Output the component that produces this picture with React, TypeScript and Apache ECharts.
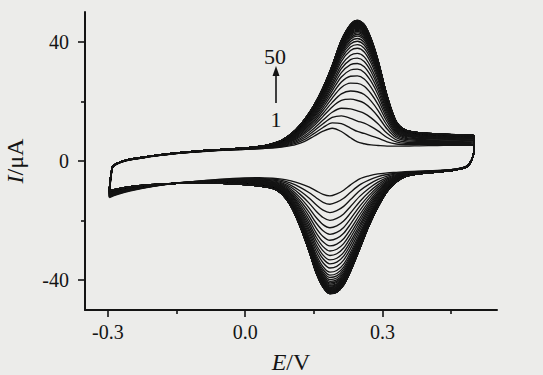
import React, { useEffect, useRef } from 'react';
import * as echarts from 'echarts';

// Potentials (V) of the forward scan (-0.3 V -> 0.5 V)
const forwardE = [-0.29, -0.28, -0.26, -0.23, -0.2, -0.15, -0.1, -0.05, 0.0, 0.04, 0.07, 0.09, 0.11, 0.13, 0.15, 0.17, 0.19, 0.21, 0.23, 0.245, 0.26, 0.275, 0.29, 0.31, 0.33, 0.35, 0.38, 0.42, 0.46, 0.5];
// Current (µA), forward scan, cycle 1 and cycle 50
const forwardCycle1 = [-2.3, -1.0, 0.1, 0.9, 1.6, 2.5, 3.1, 3.6, 3.9, 4.2, 4.5, 4.9, 5.5, 6.6, 8.3, 10.0, 11.0, 9.9, 7.8, 6.4, 5.8, 5.4, 5.2, 5.0, 5.0, 5.0, 5.1, 5.2, 5.3, 5.3];
const forwardCycle50 = [-2.0, -0.8, 0.3, 1.1, 1.8, 2.7, 3.4, 3.9, 4.4, 5.1, 6.3, 7.9, 10.4, 14.0, 18.6, 24.6, 32.0, 40.5, 45.8, 47.2, 45.8, 41.0, 33.8, 21.8, 13.2, 10.4, 9.5, 9.1, 8.8, 8.6];

// Potentials (V) of the reverse scan (0.5 V -> -0.3 V)
const reverseE = [0.5, 0.495, 0.485, 0.46, 0.42, 0.38, 0.35, 0.33, 0.31, 0.29, 0.27, 0.25, 0.23, 0.215, 0.2, 0.185, 0.17, 0.155, 0.14, 0.12, 0.1, 0.08, 0.06, 0.03, 0.0, -0.05, -0.1, -0.15, -0.2, -0.25, -0.28, -0.297];
const reverseCycle1 = [4.0, 0.5, -1.6, -2.7, -3.2, -3.4, -3.6, -3.8, -4.0, -4.3, -5.0, -6.0, -8.0, -9.8, -11.0, -11.7, -11.2, -10.0, -8.8, -7.6, -6.7, -6.1, -5.8, -5.6, -5.7, -6.1, -6.7, -7.4, -8.5, -10.0, -11.3, -12.3];
const reverseCycle50 = [4.0, 0.5, -1.8, -3.0, -3.7, -4.3, -5.2, -7.0, -10.2, -15.4, -21.8, -29.5, -37.0, -41.6, -44.0, -44.5, -42.3, -37.5, -30.5, -22.0, -15.2, -11.0, -9.2, -8.4, -7.9, -7.5, -7.4, -7.5, -7.9, -8.6, -9.4, -10.0];

// Peak currents (µA) of the 50 cycles
const anodicPeaks = [11.1, 14.2, 17.3, 20.3, 23.4, 26.0, 28.5, 30.7, 32.7, 34.4, 36.0, 37.4, 38.9, 40.0,
  41.0, 41.8, 42.5, 43.0, 43.5, 43.9, 44.2, 44.5, 44.8, 45.0, 45.2, 45.4, 45.6, 45.75, 45.9, 46.0, 46.1, 46.2,
  46.3, 46.4, 46.5, 46.55, 46.6, 46.7, 46.75, 46.8, 46.85, 46.9, 46.95, 47.0, 47.05, 47.1, 47.12, 47.15, 47.18, 47.2];
const cathodicPeaks = [-11.7, -14.5, -17.3, -19.9, -22.4, -24.6, -26.6, -28.5, -30.2, -31.7, -33.2, -34.5, -35.9, -37.3,
  -38.3, -39.1, -39.8, -40.4, -40.9, -41.3, -41.7, -42.0, -42.3, -42.55, -42.8, -43.0, -43.2, -43.35, -43.5, -43.6, -43.7, -43.8,
  -43.9, -43.95, -44.0, -44.05, -44.1, -44.15, -44.2, -44.25, -44.3, -44.33, -44.36, -44.39, -44.42, -44.45, -44.47, -44.49, -44.5, -44.5];

const xTickValues = [-0.3, 0, 0.3];
const xMinorTickValues = [-0.15, 0.15, 0.45];
const yTickValues = [-40, 0, 40];
const yMinorTickValues = [-20, 20];

const FONT = '"Liberation Serif", "DejaVu Serif", serif';
const INK = '#141414';

function cycleData(k: number): number[][] {
  const n = anodicPeaks.length;
  const wa = (anodicPeaks[k] - anodicPeaks[0]) / (anodicPeaks[n - 1] - anodicPeaks[0]);
  const wc = (cathodicPeaks[k] - cathodicPeaks[0]) / (cathodicPeaks[n - 1] - cathodicPeaks[0]);
  const pts: number[][] = [];
  const m = reverseE.length;
  pts.push([reverseE[m - 1], reverseCycle1[m - 1] + wc * (reverseCycle50[m - 1] - reverseCycle1[m - 1])]);
  forwardE.forEach((e, i) => pts.push([e, forwardCycle1[i] + wa * (forwardCycle50[i] - forwardCycle1[i])]));
  reverseE.forEach((e, i) => pts.push([e, reverseCycle1[i] + wc * (reverseCycle50[i] - reverseCycle1[i])]));
  return pts;
}

export default function App() {
  const ref = useRef<HTMLDivElement>(null);
  useEffect(() => {
    if (!ref.current) return;
    const chart = echarts.init(ref.current, undefined, { renderer: 'svg' });
    const series: any[] = anodicPeaks.map((_, k) => ({
      type: 'line',
      data: cycleData(k),
      showSymbol: false,
      symbol: 'none',
      smooth: 0.3,
      silent: true,
      lineStyle: { color: INK, width: 1.35 },
    }));
    const axisLineStyle = { color: INK, width: 2 };
    chart.setOption({
      animation: false,
      backgroundColor: '#ececea',
      grid: { left: 85, right: 46, top: 12, bottom: 65, containLabel: false, outerBoundsMode: 'none' },
      xAxis: [
        {
          type: 'value', min: -0.35, max: 0.55, position: 'bottom',
          axisLine: { show: true, onZero: false, lineStyle: axisLineStyle },
          axisTick: { show: true, customValues: xTickValues, length: 7, lineStyle: { color: INK, width: 1.6 } },
          axisLabel: { customValues: xTickValues, formatter: (v: number) => v.toFixed(1), margin: 12, fontSize: 20, fontFamily: FONT, color: INK },
          splitLine: { show: false },
          name: '{i|E}/V', nameLocation: 'middle', nameGap: 40,
          nameTextStyle: { fontSize: 24, fontFamily: FONT, color: INK, rich: { i: { fontStyle: 'italic', fontSize: 24, fontFamily: FONT, color: INK } } },
        },
        {
          type: 'value', min: -0.35, max: 0.55, position: 'bottom', offset: 0,
          axisLine: { show: false, onZero: false },
          axisTick: { show: true, customValues: xMinorTickValues, length: 4, lineStyle: { color: INK, width: 1.6 } },
          axisLabel: { show: false },
          splitLine: { show: false },
        },
      ],
      yAxis: [
        {
          type: 'value', min: -50, max: 50, position: 'left',
          axisLine: { show: true, onZero: false, lineStyle: axisLineStyle },
          axisTick: { show: true, customValues: yTickValues, length: 7, lineStyle: { color: INK, width: 1.6 } },
          axisLabel: { customValues: yTickValues, margin: 16, fontSize: 20, fontFamily: FONT, color: INK },
          splitLine: { show: false },
          name: '{i|I}/μA', nameLocation: 'middle', nameGap: 58,
          nameTextStyle: { fontSize: 24, fontFamily: FONT, color: INK, rich: { i: { fontStyle: 'italic', fontSize: 24, fontFamily: FONT, color: INK } } },
        },
        {
          type: 'value', min: -50, max: 50, position: 'left', offset: 0,
          axisLine: { show: false, onZero: false },
          axisTick: { show: true, customValues: yMinorTickValues, length: 4, lineStyle: { color: INK, width: 1.6 } },
          axisLabel: { show: false },
          splitLine: { show: false },
        },
      ],
      graphic: [
        { type: 'text', x: 275, y: 56, style: { text: '50', fontSize: 22, fontFamily: FONT, fill: INK, align: 'center', verticalAlign: 'middle' } },
        { type: 'text', x: 276, y: 119, style: { text: '1', fontSize: 22, fontFamily: FONT, fill: INK, align: 'center', verticalAlign: 'middle' } },
        { type: 'line', shape: { x1: 276, y1: 103, x2: 276, y2: 74 }, style: { stroke: INK, lineWidth: 1.6 } },
        { type: 'polygon', shape: { points: [[272.5, 76], [279.5, 76], [276, 66]] }, style: { fill: INK } },
      ],
      series,
    });
    return () => chart.dispose();
  }, []);
  return <div ref={ref} style={{ position: 'fixed', left: 0, top: 0, width: 543, height: 375 }} />;
}
